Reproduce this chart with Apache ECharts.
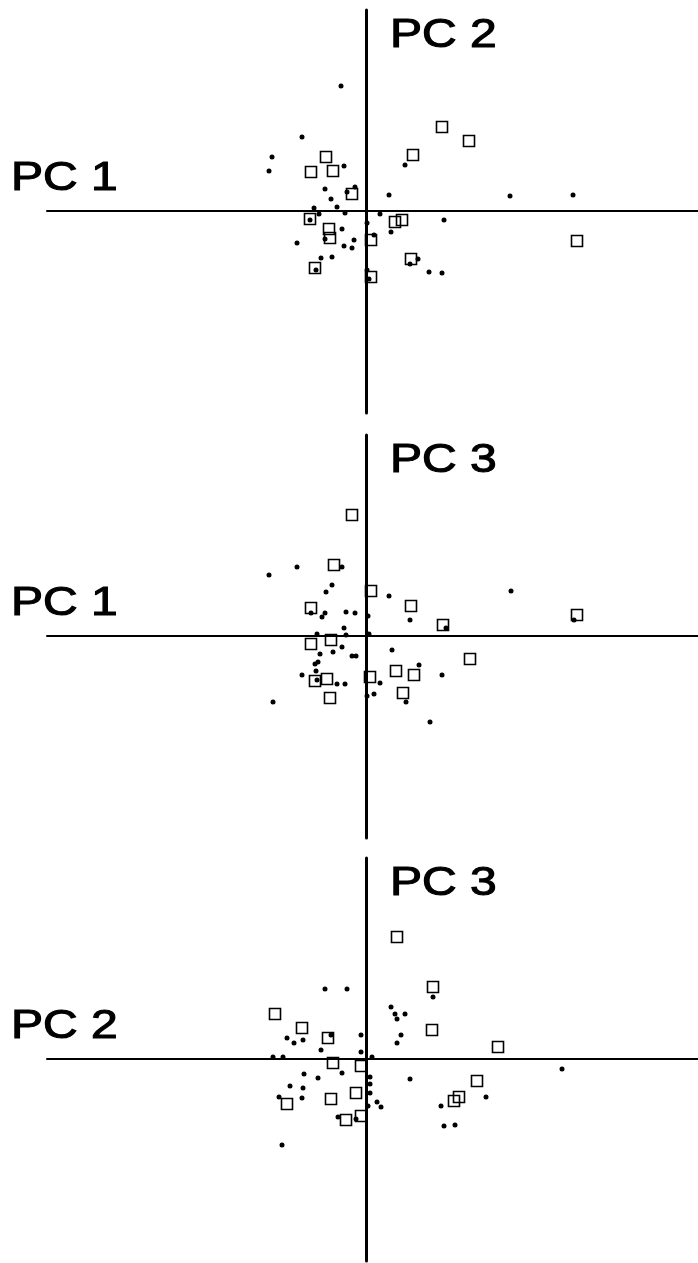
<!DOCTYPE html>
<html>
<head>
<meta charset="utf-8">
<script src="https://cdn.jsdelivr.net/npm/echarts@6/dist/echarts.min.js"></script>
<style>
  html, body { margin: 0; padding: 0; background: #fff; }
  #chart { width: 698px; height: 1263px; }
</style>
</head>
<body>
<div id="chart"></div>
<script>
// Principal component scores: squares = group A, dots = group B

// PC1 vs PC2
const pc12Squares = [[7.6,8.4],[10.3,7.0],[4.7,5.6],[-4.0,5.4],[-5.5,3.9],[-3.3,4.0],[-1.4,1.7],[-5.6,-0.8],[-3.7,-1.8],[-3.6,-2.7],[-5.1,-5.7],[0.5,-2.9],[0.5,-6.6],[2.9,-1.1],[3.6,-0.9],[4.5,-4.8],[21.1,-3.0]];
const pc12Dots = [[-2.5,12.5],[-6.4,7.4],[-9.4,5.4],[-9.7,4.0],[-2.2,4.5],[-1.1,2.4],[-1.9,1.9],[-4.1,2.2],[-3.5,1.2],[-2.9,0.4],[-5.2,0.3],[-4.7,-0.3],[-2.1,-0.2],[-5.6,-0.9],[-2.4,-1.8],[-4.1,-2.8],[-6.9,-3.2],[-1.2,-2.9],[-2.2,-3.5],[-1.4,-3.7],[-4.5,-4.7],[-3.4,-4.6],[-5.0,-5.9],[0.1,-1.2],[0.8,-2.4],[0.1,-5.9],[0.3,-6.8],[1.4,-0.3],[2.3,1.6],[3.9,4.6],[2.5,-2.1],[5.2,-4.8],[4.4,-5.3],[6.3,-6.1],[7.6,-6.2],[7.8,-0.9],[14.4,1.5],[20.7,1.6]];

// PC1 vs PC3
const pc13Squares = [[-1.4,12.1],[-3.2,7.1],[0.5,4.5],[4.5,3.0],[-5.5,2.8],[7.7,1.1],[-5.5,-0.8],[-3.5,-0.4],[10.4,-2.3],[3.0,-3.5],[4.8,-3.9],[0.4,-4.1],[-5.1,-4.5],[-3.9,-4.3],[3.7,-5.7],[-3.6,-6.2],[21.1,2.1]];
const pc13Dots = [[-9.7,6.1],[-6.9,6.9],[-2.4,6.9],[-3.4,5.1],[-4.0,4.4],[2.3,4.0],[-5.5,2.3],[-4.1,2.3],[-4.4,1.9],[-2.0,2.4],[-1.1,2.3],[0.2,2.0],[4.4,1.6],[8.0,0.8],[-2.2,0.8],[-4.9,0.2],[-2.0,0.1],[0.3,0.2],[-2.4,-1.1],[-3.3,-1.6],[-4.6,-1.8],[-1.4,-2.0],[-1.0,-2.0],[-4.8,-2.6],[-5.1,-2.8],[2.6,-1.4],[5.3,-2.9],[7.6,-3.9],[-6.4,-3.9],[-5.0,-3.5],[-4.9,-4.4],[-2.9,-4.8],[-2.1,-4.8],[1.4,-4.7],[0.8,-5.8],[0.1,-6.0],[4.0,-6.6],[-9.3,-6.6],[6.4,-8.6],[14.5,4.5],[20.8,1.6]];

// PC2 vs PC3
const pc23Squares = [[3.1,12.2],[6.7,7.2],[-9.1,4.5],[-6.4,3.1],[6.6,2.9],[-3.8,2.1],[-3.3,-0.4],[-0.5,-0.7],[11.1,-2.2],[-1.0,-3.4],[-3.5,-4.0],[-7.9,-4.5],[9.3,-3.8],[8.8,-4.2],[-0.5,-5.7],[-2.0,-6.1],[13.2,1.2]];
const pc23Dots = [[-4.1,7.0],[-1.9,7.0],[2.5,5.2],[2.9,4.5],[3.9,4.5],[3.1,4.0],[6.7,6.2],[3.5,2.4],[3.1,1.6],[-7.9,2.1],[-7.2,1.6],[-6.3,1.9],[-3.5,2.4],[-0.5,2.4],[-4.5,0.9],[-0.5,0.7],[-9.3,0.2],[-8.3,0.2],[0.6,0.2],[-2.4,-1.4],[-6.2,-1.5],[-4.8,-1.9],[-7.6,-2.7],[-6.3,-2.9],[-6.4,-3.9],[-8.7,-3.8],[0.4,-1.8],[0.4,-2.5],[0.4,-3.4],[0.2,-4.7],[1.1,-4.3],[1.5,-4.8],[4.4,-2.0],[7.5,-4.7],[7.8,-6.7],[8.9,-6.6],[12.0,-3.8],[-2.8,-5.8],[-1.0,-6.0],[-8.4,-8.6],[19.6,-1.0]];

// Axis titles per panel: [horizontal, vertical]
const panelTitles = [['PC 1', 'PC 2'], ['PC 1', 'PC 3'], ['PC 2', 'PC 3']];
const panels = [
  { squares: pc12Squares, dots: pc12Dots },
  { squares: pc13Squares, dots: pc13Dots },
  { squares: pc23Squares, dots: pc23Dots }
];

const X_MIN = -31.9, X_MAX = 33.2;
const Y_MIN = -20.2, Y_MAX = 20.1;
const gridTops = [10, 435, 858];
const GRID_H = 403;

const chart = echarts.init(document.getElementById('chart'), null, { renderer: 'canvas' });

const grids = [], xAxes = [], yAxes = [], series = [], graphics = [];
const font = '40px "Liberation Sans", Arial, sans-serif';
const titleStyle = (text) => ({
  text: text, font: font, fill: '#000', stroke: '#000', lineWidth: 1.1,
  textVerticalAlign: 'top'
});

panels.forEach((p, i) => {
  grids.push({ left: 47, right: 0, top: gridTops[i], height: GRID_H });
  xAxes.push({
    type: 'value', gridIndex: i, min: X_MIN, max: X_MAX,
    axisLine: { onZero: true, lineStyle: { color: '#000', width: 2 } },
    axisTick: { show: false }, axisLabel: { show: false }, splitLine: { show: false }
  });
  yAxes.push({
    type: 'value', gridIndex: i, min: Y_MIN, max: Y_MAX,
    axisLine: { onZero: true, lineStyle: { color: '#000', width: 3 } },
    axisTick: { show: false }, axisLabel: { show: false }, splitLine: { show: false }
  });
  series.push({
    type: 'scatter', xAxisIndex: i, yAxisIndex: i, data: p.dots,
    symbol: 'circle', symbolSize: 5,
    itemStyle: { color: '#000', opacity: 1 }, z: 3
  });
  series.push({
    type: 'scatter', xAxisIndex: i, yAxisIndex: i, data: p.squares,
    symbol: 'rect', symbolSize: 11,
    itemStyle: { color: 'rgba(0,0,0,0)', borderColor: '#000', borderWidth: 1.6, opacity: 1 }, z: 4
  });

  const originY = gridTops[i] + 201;
  // horizontal-axis title, left of the plot
  graphics.push({
    type: 'text', x: 11, y: originY - 52, scaleX: 1.2,
    style: titleStyle(panelTitles[i][0])
  });
  // vertical-axis title, right of the vertical axis near the top
  graphics.push({
    type: 'text', x: 390, y: originY - 195, scaleX: 1.2,
    style: titleStyle(panelTitles[i][1])
  });
});

chart.setOption({
  animation: false,
  backgroundColor: '#fff',
  grid: grids,
  xAxis: xAxes,
  yAxis: yAxes,
  series: series,
  graphic: graphics
});
</script>
</body>
</html>
